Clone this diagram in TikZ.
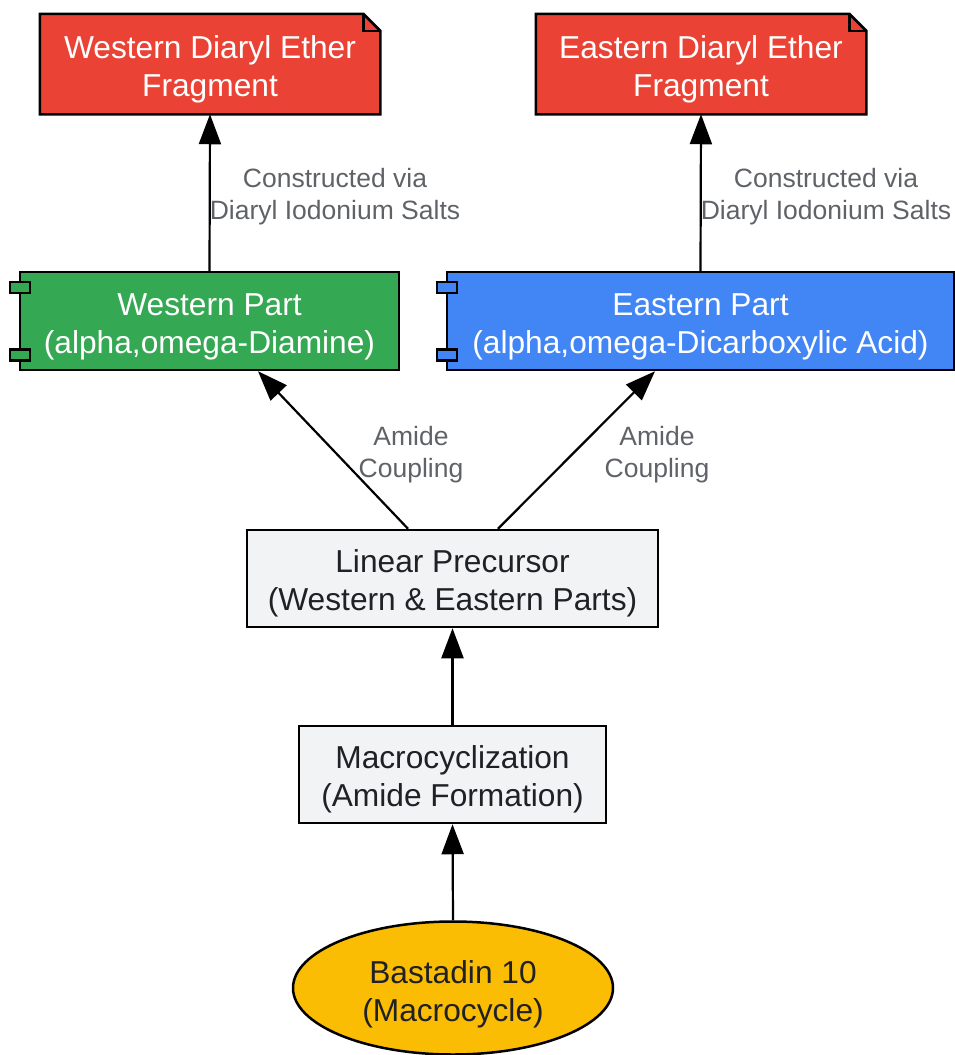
\documentclass[tikz,border=0pt]{standalone}
\usepackage{fontspec}
\setmainfont{Liberation Sans}
\usetikzlibrary{arrows.meta,calc,shapes.geometric}
\definecolor{cred}{HTML}{EA4335}
\definecolor{cgreen}{HTML}{34A853}
\definecolor{cblue}{HTML}{4285F4}
\definecolor{cyellow}{HTML}{FBBC04}
\definecolor{cgrey}{HTML}{F1F3F4}
\definecolor{cdark}{HTML}{202124}
\definecolor{clabel}{HTML}{5F6368}
\tikzset{
  base/.style={inner sep=0pt, align=center, font=\fontsize{31.7}{38}\selectfont, line width=2.5pt,
    execute at begin node={\rule{0pt}{71pt}}},
  notebox/.style={base, text=white},
  compbox/.style={base, draw=black, text=white},
  stepbox/.style={base, draw=black, fill=cgrey, text=cdark},
  ovalbox/.style={base, ellipse, draw=black, fill=cyellow, text=cdark,
    execute at begin node={\rule{0pt}{73pt}}},
  conn/.style={line width=2.2pt, -{Triangle[length=30pt,width=22pt]}},
  elabel/.style={align=center, text=clabel, font=\fontsize{26.5}{32}\selectfont,
    execute at begin node={\rule{0pt}{57.5pt}}},
  tab/.style={line width=2.5pt, draw=black}
}
\begin{document}
\begin{tikzpicture}[x=1pt,y=-1pt]
\useasboundingbox (0,0) rectangle (954,1055);

% notes
\node[notebox, minimum width=338pt, minimum height=98pt] (wn) at (210,64) {};
\node[notebox, minimum width=328pt, minimum height=98pt] (en) at (701,64) {};
\foreach \n in {wn,en}{
  \filldraw[fill=cred, draw=black, line width=2.5pt]
    (\n.north west) -- ($(\n.north east)+(-17,0)$) -- ($(\n.north east)+(0,17)$)
    -- (\n.south east) -- (\n.south west) -- cycle;
  \draw[line width=2.5pt] ($(\n.north east)+(-17,0)$) -- ($(\n.north east)+(-17,17)$) -- ($(\n.north east)+(0,17)$);
}
\node[notebox] (wnt) at (wn) {Western Diaryl Ether\\Fragment};
\node[notebox] (ent) at (en) {Eastern Diaryl Ether\\Fragment};

% components
\node[compbox, fill=cgreen, minimum width=379pt, minimum height=98pt] (wp) at (209.5,321) {Western Part\\(alpha,omega-Diamine)};
\node[compbox, fill=cblue, minimum width=507pt, minimum height=98pt] (ep) at (700.5,321) {Eastern Part\\(alpha,omega-Dicarboxylic Acid)};
\filldraw[tab, fill=cgreen] ($(wp.north west)+(-9,11)$) rectangle ($(wp.north west)+(11,22)$);
\filldraw[tab, fill=cgreen] ($(wp.south west)+(-9,-22)$) rectangle ($(wp.south west)+(11,-11)$);
\filldraw[tab, fill=cblue] ($(ep.north west)+(-9,11)$) rectangle ($(ep.north west)+(11,22)$);
\filldraw[tab, fill=cblue] ($(ep.south west)+(-9,-22)$) rectangle ($(ep.south west)+(11,-11)$);

% steps
\node[stepbox, minimum width=411pt, minimum height=97pt] (lin) at (452.5,578.5) {Linear Precursor\\(Western \& Eastern Parts)};
\node[stepbox, minimum width=307pt, minimum height=97pt] (mac) at (452.5,774.5) {Macrocyclization\\(Amide Formation)};
\node[ovalbox, minimum width=320pt, minimum height=133pt] (bas) at (453,988) {Bastadin 10\\(Macrocycle)};

% connectors
\draw[conn] (wp.north) -- (wn.south);
\draw[conn] (ep.north) -- (en.south);
\draw[conn] ($(lin.north)+(-44.5,0)$) -- ($(wp.south)+(48.5,0)$);
\draw[conn] ($(lin.north)+(45.5,0)$) -- ($(ep.south)+(-45.5,0)$);
\draw[conn] (mac.north) -- (lin.south);
\draw[conn] (bas.north) -- (mac.south);

% labels
\node[elabel] (l1) at (335,193) {Constructed via\\Diaryl Iodonium Salts};
\node[elabel] (l2) at (826,193) {Constructed via\\Diaryl Iodonium Salts};
\node[elabel] (l3) at (411,451) {Amide\\Coupling};
\node[elabel] (l4) at (657,451) {Amide\\Coupling};
\end{tikzpicture}
\end{document}
